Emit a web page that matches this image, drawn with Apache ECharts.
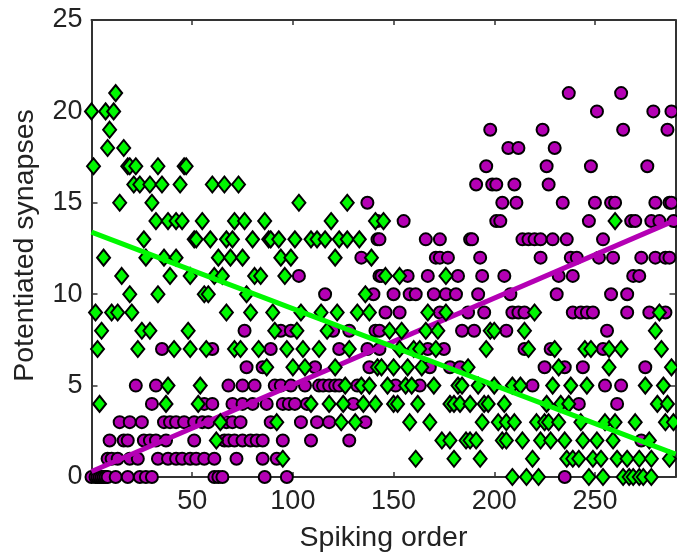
<!DOCTYPE html>
<html><head><meta charset="utf-8">
<style>html,body{margin:0;padding:0;background:#fff}#c{width:677px;height:554px;filter:blur(0.5px)}</style>
<script src="https://cdn.jsdelivr.net/npm/echarts@6/dist/echarts.min.js"></script>
</head><body><div id="c"></div>
<script>
// Index in each list = number of potentiated synapses; entries = spiking order.
const purpleOrders = [
 [0,2,3,4,5,6,7,8,12,18,24,27,30,61,63,65,86,97,235],
 [8,10,13,19,23,33,38,42,45,49,52,56,61,72,85,92],
 [9,16,18,26,29,32,37,51,66,68,71,75,79,82,85,95,109,128,273],
 [14,19,25,36,39,42,46,51,55,58,67,70,74,89,104,112,118,136],
 [30,56,60,70,75,80,87,95,98,101,107,130,242,261],
 [22,32,68,75,81,91,94,99,106,113,115,118,121,123,132,151,163,219,255,263],
 [77,85,111,138,168,178,183,225,235,244,275],
 [35,60,89,123,137,143,167,175,215,228,254],
 [76,94,99,120,128,141,143,184,190,206,256],
 [146,153,173,187,195,209,212,215,239,243,246,249,266,277,285],
 [116,140,150,158,161,170,176,181,192,208,231,258,266],
 [103,143,144,157,167,182,194,205,232,239,269,272],
 [134,171,173,177,193,223,238,241,252,259,273,280,285,287],
 [142,143,166,173,188,189,214,217,220,223,229,236,254],
 [142,155,201,203,247,268,270,278,282,289],
 [137,204,211,234,250,258,260,280,287,288],
 [191,199,201,210,227],
 [196,226,248,276],
 [207,212,230],
 [198,224,264,286],
 [251,279,288],
 [237,263]
];
const greenOrders = [
 [209,216,222,247,254,264,267,269,272,274,278],
 [95,161,180,193,219,236,239,242,249,253,261,266,272,278,287],
 [62,174,178,186,188,191,204,206,214,223,228,235,244,251,259,277],
 [64,92,124,131,158,168,194,202,206,210,221,225,227,232,243,255,260,270,285,289],
 [4,37,53,109,118,125,135,141,150,152,162,178,180,183,188,195,197,205,226,233,237,281,286],
 [38,54,126,134,138,147,156,159,170,182,184,192,200,209,213,229,238,246,275,284],
 [87,100,106,121,142,144,150,157,164,187,232,257,288],
 [3,23,41,49,57,71,74,83,97,105,113,128,153,160,163,171,196,217,230,245,248,257,263,283],
 [5,25,29,48,91,102,117,148,154,166,172,198,200,215,280],
 [2,10,13,20,67,79,90,104,114,122,132,138,167,176,220,282],
 [19,33,56,58,77,136],
 [15,39,49,61,65,81,84,96,146,153,176],
 [6,27,36,42,63,69,75,94,99,121,139],
 [26,51,52,59,67,70,80,88,89,93,101,109,112,116,123,127,133],
 [32,38,42,45,55,71,76,86,119,141,145,260],
 [14,30,103,127],
 [21,24,29,35,44,60,66,73],
 [1,18,19,22,33,46,47],
 [8,16],
 [9],
 [0,7,11],
 [12]
];
const purpleFit = [[0,0.3],[290,14.05]];
const greenFit = [[0,13.4],[290,1.25]];
const xTicks = [50,100,150,200,250];

const toPoints = rows => rows.flatMap((r,y)=>r.map(x=>[x,y]));
const ink = '#222', PUR='#b400b4', GRN='#00f800';
const font = 'Liberation Sans';
const chart = echarts.init(document.getElementById('c'),null,{renderer:'canvas'});
const hidden = {show:false};
chart.setOption({
 animation:false,
 backgroundColor:'#fff',
 grid:{left:91.5,top:20,width:584,height:457,show:false,outerBoundsMode:'none'},
 xAxis:[
  {type:'value',min:0,max:290,interval:50,position:'bottom',
   name:'Spiking order',nameLocation:'middle',nameGap:47,
   nameTextStyle:{fontFamily:font,fontSize:28.5,color:ink},
   axisLine:{show:true,onZero:false,lineStyle:{color:'#333',width:2}},
   axisTick:{inside:true,length:5,lineStyle:{color:'#333',width:1.5}},
   axisLabel:{fontFamily:font,fontSize:27,color:ink,margin:11,showMaxLabel:false,
     formatter:v=>xTicks.includes(v)?String(v):''},
   splitLine:hidden},
  {type:'value',min:0,max:290,interval:50,position:'top',
   axisLine:{show:true,onZero:false,lineStyle:{color:'#333',width:2}},
   axisTick:{inside:true,length:5,lineStyle:{color:'#333',width:1.5}},
   axisLabel:hidden,splitLine:hidden}
 ],
 yAxis:[
  {type:'value',min:0,max:25,interval:5,position:'left',
   name:'Potentiated synapses',nameLocation:'middle',nameGap:52,
   nameTextStyle:{fontFamily:font,fontSize:28.5,color:ink,padding:[0,0,0,6]},
   axisLine:{show:true,onZero:false,lineStyle:{color:'#333',width:2}},
   axisTick:{inside:true,length:6,lineStyle:{color:'#333',width:1.5}},
   axisLabel:{fontFamily:font,fontSize:27,color:ink,margin:9},
   splitLine:hidden},
  {type:'value',min:0,max:25,interval:5,position:'right',
   axisLine:{show:true,onZero:false,lineStyle:{color:'#333',width:2}},
   axisTick:{inside:true,length:6,lineStyle:{color:'#333',width:1.5}},
   axisLabel:hidden,splitLine:hidden}
 ],
 series:[
  {type:'scatter',data:toPoints(purpleOrders),symbol:'circle',symbolSize:12,clip:false,z:3,
   itemStyle:{color:PUR,opacity:1,borderColor:'#000',borderWidth:2}},
  {type:'line',data:purpleFit,showSymbol:false,symbol:'none',clip:false,z:4,
   lineStyle:{color:PUR,width:5,cap:'butt'}},
  {type:'scatter',data:toPoints(greenOrders),symbol:'diamond',symbolSize:[13,16],clip:false,z:5,
   itemStyle:{color:GRN,opacity:1,borderColor:'#000',borderWidth:2}},
  {type:'line',data:greenFit,showSymbol:false,symbol:'none',clip:false,z:6,
   lineStyle:{color:GRN,width:5,cap:'butt'}}
 ]
});
</script></body></html>
